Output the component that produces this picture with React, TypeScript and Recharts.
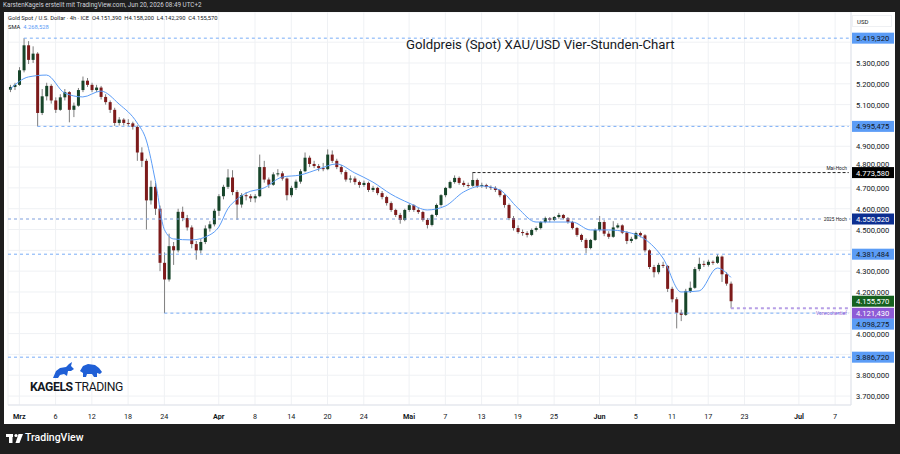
import React from 'react';
import {
  ComposedChart,
  Bar,
  Line,
  XAxis,
  YAxis,
  CartesianGrid,
  ReferenceLine,
} from 'recharts';

type Ohlc = [number, number, number, number];

// half-day candles [open, high, low, close], Feb 27 .. Mar 31
const febMarCandles: Ohlc[] = [
  [5172, 5195, 5160, 5185], [5185, 5205, 5170, 5195], [5195, 5280, 5190, 5265], [5265, 5419.32, 5255, 5385],
  [5385, 5405, 5295, 5315], [5315, 5380, 5300, 5345], [5345, 5352, 4995.475, 5060], [5060, 5175, 5050, 5140],
  [5140, 5205, 5120, 5190], [5190, 5198, 5105, 5120], [5120, 5135, 5060, 5075], [5075, 5150, 5070, 5135],
  [5135, 5175, 5120, 5160], [5160, 5165, 5015, 5075], [5075, 5110, 5040, 5095], [5095, 5180, 5090, 5170],
  [5170, 5235, 5160, 5215], [5215, 5228, 5185, 5195], [5195, 5205, 5160, 5170], [5170, 5195, 5160, 5182],
  [5182, 5190, 5125, 5137], [5137, 5150, 5100, 5112], [5112, 5120, 5060, 5075], [5075, 5085, 4998, 5012],
  [5012, 5040, 5000, 5028], [5028, 5035, 5000, 5012], [5012, 5030, 4996, 5010], [5010, 5018, 4980, 4993],
  [4993, 5000, 4830, 4870], [4870, 4895, 4800, 4830], [4830, 4840, 4500, 4640], [4640, 4735, 4620, 4705],
  [4705, 4725, 4570, 4600], [4600, 4615, 4300, 4340], [4340, 4390, 4098.275, 4260], [4260, 4480, 4250, 4420],
  [4420, 4440, 4330, 4400], [4400, 4600, 4390, 4585], [4585, 4610, 4540, 4555], [4555, 4570, 4495, 4510],
  [4510, 4520, 4410, 4430], [4430, 4445, 4355, 4400], [4400, 4455, 4385, 4440], [4440, 4520, 4430, 4505],
  [4505, 4540, 4490, 4525], [4525, 4600, 4515, 4590],
];

const aprCandles: Ohlc[] = [
  [4590, 4670, 4565, 4660], [4660, 4715, 4645, 4705], [4705, 4790, 4695, 4750], [4750, 4785, 4665, 4680],
  [4680, 4690, 4546, 4620], [4620, 4675, 4605, 4665], [4665, 4680, 4640, 4660], [4660, 4670, 4632, 4650],
  [4650, 4670, 4630, 4660], [4660, 4860, 4655, 4800], [4800, 4830, 4725, 4740], [4740, 4750, 4700, 4715],
  [4715, 4775, 4710, 4765], [4765, 4790, 4755, 4770], [4770, 4780, 4735, 4745], [4745, 4750, 4640, 4665],
  [4665, 4710, 4655, 4700], [4700, 4740, 4690, 4730], [4730, 4790, 4720, 4780], [4780, 4870, 4775, 4845],
  [4845, 4855, 4800, 4815], [4815, 4830, 4795, 4805], [4805, 4815, 4780, 4795], [4795, 4820, 4780, 4790],
  [4790, 4885, 4785, 4860], [4860, 4880, 4820, 4830], [4830, 4840, 4790, 4800], [4800, 4810, 4765, 4776],
  [4776, 4785, 4730, 4740], [4740, 4760, 4725, 4745], [4745, 4755, 4715, 4728], [4728, 4735, 4700, 4714],
  [4714, 4735, 4705, 4724], [4724, 4730, 4680, 4690], [4690, 4710, 4680, 4700], [4700, 4705, 4665, 4675],
  [4675, 4685, 4645, 4656], [4656, 4662, 4615, 4627], [4627, 4635, 4585, 4594], [4594, 4600, 4560, 4570],
  [4570, 4580, 4528, 4546], [4546, 4600, 4540, 4594],
];

const mayCandles: Ohlc[] = [
  [4594, 4625, 4585, 4617], [4617, 4622, 4585, 4594], [4594, 4605, 4575, 4584], [4584, 4590, 4538, 4546],
  [4546, 4555, 4505, 4522], [4522, 4575, 4515, 4570], [4570, 4625, 4562, 4618], [4618, 4670, 4610, 4665],
  [4665, 4705, 4655, 4700], [4700, 4735, 4695, 4728], [4728, 4760, 4720, 4748], [4748, 4755, 4715, 4724],
  [4724, 4735, 4705, 4714], [4714, 4725, 4700, 4710], [4710, 4773.58, 4705, 4738], [4738, 4745, 4700, 4710],
  [4710, 4725, 4700, 4714], [4714, 4720, 4695, 4704], [4704, 4712, 4690, 4700], [4700, 4708, 4680, 4690],
  [4690, 4695, 4655, 4665], [4665, 4670, 4605, 4618], [4618, 4625, 4545, 4555], [4555, 4565, 4495, 4507],
  [4507, 4520, 4480, 4488], [4488, 4500, 4470, 4483], [4483, 4492, 4462, 4474], [4474, 4505, 4468, 4498],
  [4498, 4515, 4490, 4507], [4507, 4540, 4500, 4536], [4536, 4562, 4530, 4555], [4555, 4560, 4535, 4546],
  [4546, 4565, 4540, 4560], [4560, 4580, 4552, 4570], [4570, 4575, 4548, 4555], [4555, 4560, 4528, 4536],
  [4536, 4542, 4500, 4507], [4507, 4512, 4465, 4474], [4474, 4480, 4440, 4450], [4450, 4458, 4385, 4411],
  [4411, 4455, 4405, 4450], [4450, 4505, 4445, 4498],
];

const junCandles: Ohlc[] = [
  [4498, 4565, 4490, 4536], [4536, 4545, 4468, 4480], [4480, 4492, 4455, 4465], [4465, 4540, 4460, 4510],
  [4510, 4530, 4505, 4520], [4520, 4525, 4478, 4485], [4485, 4492, 4430, 4445], [4445, 4465, 4435, 4455],
  [4455, 4490, 4450, 4483], [4483, 4490, 4462, 4472], [4472, 4478, 4390, 4400], [4400, 4405, 4310, 4320],
  [4320, 4330, 4270, 4295], [4295, 4340, 4285, 4330], [4330, 4345, 4315, 4325], [4325, 4330, 4200, 4215],
  [4215, 4225, 4150, 4165], [4165, 4175, 4025, 4100], [4100, 4115, 4060, 4090], [4090, 4215, 4085, 4205],
  [4205, 4250, 4195, 4220], [4220, 4320, 4215, 4310], [4310, 4365, 4300, 4335], [4335, 4350, 4320, 4330],
  [4330, 4355, 4322, 4345], [4345, 4352, 4330, 4340], [4340, 4381.48, 4335, 4370], [4370, 4375, 4248, 4285],
  [4285, 4295, 4230, 4240], [4240, 4250, 4121.43, 4155.57],
];

// SMA read at some slots: [slot, value]
const smaPoints: [number, number][] = [
  [0, 5175], [4, 5233], [8, 5242], [12, 5156], [16, 5137], [20, 5165], [24, 5103], [28, 5012],
  [30, 4930], [32, 4735], [34, 4500], [36, 4455], [40, 4450], [44, 4474], [46, 4512], [48, 4600],
  [50, 4645], [52, 4675], [56, 4700], [60, 4752], [64, 4762], [68, 4790], [72, 4815], [76, 4772],
  [80, 4728], [84, 4670], [88, 4627], [92, 4594], [96, 4613], [100, 4680], [104, 4709], [108, 4690],
  [112, 4603], [116, 4536], [120, 4536], [124, 4536], [128, 4498], [132, 4498], [136, 4488], [140, 4454],
  [144, 4363], [148, 4200], [152, 4205], [156, 4315], [159, 4270],
];

const dateTicks: [number, string][] = [
  [2, 'Mrz'], [10, '6'], [18, '12'], [26, '18'], [34, '24'], [46, 'Apr'], [54, '8'], [62, '14'],
  [70, '20'], [78, '24'], [88, 'Mai'], [96, '7'], [104, '13'], [112, '19'], [120, '25'], [130, 'Jun'],
  [138, '5'], [146, '11'], [154, '17'], [162, '23'], [174, 'Jul'], [182, '7'],
];
const monthNames = ['Mrz', 'Apr', 'Mai', 'Jun', 'Jul'];

const priceTicks = [3700, 3800, 3900, 4000, 4100, 4200, 4300, 4400, 4500, 4600, 4700, 4800, 4900, 5000, 5100, 5200, 5300, 5400];
const hiddenPriceLabels = [3900, 4100, 4400, 5000, 5400];
const raisedPriceLabels = [4800];

const LIGHT = '#5b9cf6';
const levels = [
  { value: 5419.32, from: 3, stroke: '#79adf7', dash: '3 3', badge: LIGHT, ink: '#131722' },
  { value: 4995.475, from: 6, stroke: '#79adf7', dash: '3 3', badge: LIGHT, ink: '#131722' },
  { value: 4773.58, from: 102, stroke: '#222', dash: '3 2', badge: '#000', ink: '#fff', note: 'Mai-Hoch', noteDy: -3 },
  { value: 4550.52, from: null, stroke: '#7f9fdc', dash: '3 3', badge: '#0c2f91', ink: '#fff', note: '2025 Hoch', noteDy: 2 },
  { value: 4381.484, from: null, stroke: '#79adf7', dash: '3 3', badge: LIGHT, ink: '#131722' },
  { value: 4155.57, from: -1, stroke: 'none', dash: '', badge: '#15611f', ink: '#fff' },
  { value: 4121.43, from: 159, stroke: '#b7a0e6', dash: '3 3', width: 2, badge: '#8e5bd6', ink: '#fff', note: 'Vorwochentief', noteDy: 7, noteInk: '#8e5bd6', badgeDy: 5 },
  { value: 4098.275, from: 34, stroke: '#79adf7', dash: '3 3', badge: LIGHT, ink: '#131722', badgeDy: 11 },
  { value: 3886.72, from: null, stroke: '#79adf7', dash: '3 3', badge: LIGHT, ink: '#131722' },
];

const TOTAL_SLOTS = 186;
const LAST_SLOT = TOTAL_SLOTS - 1;

const allCandles = [...febMarCandles, ...aprCandles, ...mayCandles, ...junCandles];
const smaBySlot = new Map(smaPoints);
const rows = Array.from({ length: TOTAL_SLOTS }, (_, k) => {
  const c = allCandles[k];
  return {
    k,
    o: c ? c[0] : undefined,
    h: c ? c[1] : undefined,
    l: c ? c[2] : undefined,
    c: c ? c[3] : undefined,
    range: c ? [c[2], c[1]] : undefined,
    sma: smaBySlot.has(k) ? smaBySlot.get(k) : null,
  };
});

const fmt = (v: number) => {
  const [i, d] = v.toFixed(3).split('.');
  return i.replace(/\B(?=(\d{3})+(?!\d))/g, '.') + ',' + d;
};

const FONT = 'Roboto, "Noto Sans", sans-serif';

const Candle = (props: any) => {
  const { x, y, width, height, payload } = props;
  if (!payload || payload.o == null) return null;
  const { o, h, l, c } = payload;
  const top = Math.min(y, y + height);
  const span = Math.abs(height);
  const ppu = span / (h - l);
  const cx = x + width / 2;
  const bodyTop = top + (h - Math.max(o, c)) * ppu;
  const bodyH = Math.max(1, Math.abs(o - c) * ppu);
  const up = c >= o;
  return (
    <g>
      <line x1={cx} x2={cx} y1={top} y2={top + span} stroke="#7e7e7e" strokeWidth={1} />
      <rect x={cx - 1.5} y={bodyTop} width={3} height={bodyH} fill={up ? '#17452a' : '#7d1b1b'} />
    </g>
  );
};

const PriceTick = (props: any) => {
  const { x, y, payload } = props;
  if (hiddenPriceLabels.includes(payload.value)) return null;
  const dy = raisedPriceLabels.includes(payload.value) ? -0.5 : 3;
  return (
    <text x={x} y={y + dy} fontSize={7.6} fill="#131722" fontFamily={FONT}>
      {fmt(payload.value)}
    </text>
  );
};

const DateTick = (props: any) => {
  const { x, y, payload } = props;
  const entry = dateTicks.find((t) => t[0] === payload.value);
  if (!entry) return null;
  const isMonth = monthNames.includes(entry[1]);
  return (
    <text x={x} y={y + 12} fontSize={7.2} textAnchor="middle" fill="#131722" fontWeight={isMonth ? 700 : 400} fontFamily={FONT}>
      {entry[1]}
    </text>
  );
};

const makeBadge = (lv: any) => (p: any) => {
  const vb = p.viewBox || {};
  const right = vb.x + vb.width;
  const ly = vb.y;
  const by = ly + (lv.badgeDy || 0);
  return (
    <g>
      {lv.note && (
        <g>
          {lv.noteDy > 0 && lv.noteDy < 4 && <rect x={right - 28} y={ly - 3} width={26} height={6} fill="#fff" />}
          <text x={right - 4} y={ly + lv.noteDy} fontSize={4.8} textAnchor="end" fill={lv.noteInk || '#131722'} fontFamily={FONT}>
            {lv.note}
          </text>
        </g>
      )}
      <rect x={right + 1} y={by - 5.5} width={42} height={11} fill={lv.badge} />
      <text x={right + 5} y={by + 3} fontSize={7.6} fill={lv.ink} fontFamily={FONT}>
        {fmt(lv.value)}
      </text>
    </g>
  );
};

export default function App() {
  return (
    <div style={{ position: 'relative', width: 900, height: 454, background: '#1e1e1e', overflow: 'hidden', fontFamily: FONT }}>
      <style>{'body{margin:0}'}</style>
      <div style={{ position: 'absolute', left: 3, top: 2, fontSize: 6.3, color: '#d1d4dc', lineHeight: 1 }}>
        KarstenKagels erstellt mit TradingView.com, Jun 20, 2026 08:49 UTC+2
      </div>

      <div style={{ position: 'absolute', left: 4, top: 12, width: 891, height: 412, background: '#fff' }}>
        <ComposedChart width={891} height={412} data={rows} margin={{ top: 0, right: 0, left: 4, bottom: 0 }}>
          <CartesianGrid stroke="#eff1f4" />
          <XAxis
            dataKey="k"
            type="category"
            ticks={dateTicks.map((t) => t[0])}
            interval={0}
            tick={<DateTick />}
            tickLine={false}
            tickSize={0}
            axisLine={{ stroke: '#e0e3eb' }}
            height={19}
          />
          <YAxis
            orientation="right"
            type="number"
            domain={[3657, 5545]}
            allowDataOverflow
            ticks={priceTicks}
            interval={0}
            tick={<PriceTick />}
            tickLine={false}
            tickSize={0}
            tickMargin={5}
            axisLine={{ stroke: '#e0e3eb' }}
            width={44}
          />
          {levels
            .filter((lv) => lv.stroke !== 'none')
            .map((lv) =>
              lv.from == null ? (
                <ReferenceLine key={'l' + lv.value} y={lv.value} stroke={lv.stroke} strokeDasharray={lv.dash} strokeWidth={lv.width || 1} />
              ) : (
                <ReferenceLine
                  key={'l' + lv.value}
                  segment={[{ x: lv.from, y: lv.value }, { x: LAST_SLOT, y: lv.value }]}
                  stroke={lv.stroke}
                  strokeDasharray={lv.dash}
                  strokeWidth={lv.width || 1}
                />
              )
            )}
          <Bar dataKey="range" shape={(p: any) => <Candle {...p} />} isAnimationActive={false} />
          <Line
            type="monotone"
            dataKey="sma"
            stroke="#5b9cf6"
            strokeWidth={1}
            dot={false}
            connectNulls
            isAnimationActive={false}
          />
          {levels.map((lv) => (
            <ReferenceLine key={'b' + lv.value} y={lv.value} stroke="none" label={makeBadge(lv)} />
          ))}
        </ComposedChart>
      </div>

      {/* legend */}
      <div style={{ position: 'absolute', left: 8, top: 16, fontSize: 5.8, color: '#131722', lineHeight: 1, whiteSpace: 'nowrap' }}>
        Gold Spot / U.S. Dollar · 4h · ICE&nbsp;&nbsp;O4.151,390&nbsp;&nbsp;H4.158,200&nbsp;&nbsp;L4.142,290&nbsp;&nbsp;C4.155,570
      </div>
      <div style={{ position: 'absolute', left: 8, top: 25, fontSize: 5.8, color: '#131722', lineHeight: 1 }}>
        SMA&nbsp;&nbsp;<span style={{ color: '#5b9cf6' }}>4.268,528</span>
      </div>
      <div style={{ position: 'absolute', left: 852, top: 15, width: 40, height: 12, border: '1px solid #eef0f3', boxSizing: 'border-box', fontSize: 6, color: '#131722', lineHeight: '11px', paddingLeft: 4 }}>
        USD
      </div>

      {/* title */}
      <div style={{ position: 'absolute', left: 406, top: 38, fontSize: 13.2, color: '#131722', lineHeight: 1, whiteSpace: 'nowrap' }}>
        Goldpreis (Spot) XAU/USD Vier-Stunden-Chart
      </div>

      {/* logo */}
      <svg style={{ position: 'absolute', left: 0, top: 0 }} width={900} height={454}>
        <path d="M53,378 L56,371 L60,368 L66,367 L69,364 L72,362 L71,366 L74,369 L71,371 L68,371 L67,376 L64,374 L60,375 L58,378 Z" fill="#1f5fd6" />
        <path d="M80,371 L83,366 L88,364 L95,365 L99,368 L102,372 L100,374 L97,373 L97,377 L94,377 L92,374 L87,374 L86,377 L83,377 L83,373 Z" fill="#1f5fd6" />
        <rect x={6} y={434} width={7} height={3} fill="#fff" />
        <rect x={9} y={434} width={3.5} height={9} fill="#fff" />
        <circle cx={16} cy={435.5} r={1.6} fill="#fff" />
        <path d="M18.5,434 L23,434 L19.5,443 L15.5,443 Z" fill="#fff" />
      </svg>
      <div style={{ position: 'absolute', left: 30, top: 381, fontSize: 12.2, color: '#131722', lineHeight: 1, whiteSpace: 'nowrap', letterSpacing: -0.4 }}>
        <span style={{ fontWeight: 700 }}>KAGELS</span>
        <span style={{ fontWeight: 400, marginLeft: 2 }}>TRADING</span>
      </div>
      <div style={{ position: 'absolute', left: 25, top: 433, fontSize: 10.5, color: '#fff', lineHeight: 1, fontWeight: 500 }}>TradingView</div>
    </div>
  );
}
